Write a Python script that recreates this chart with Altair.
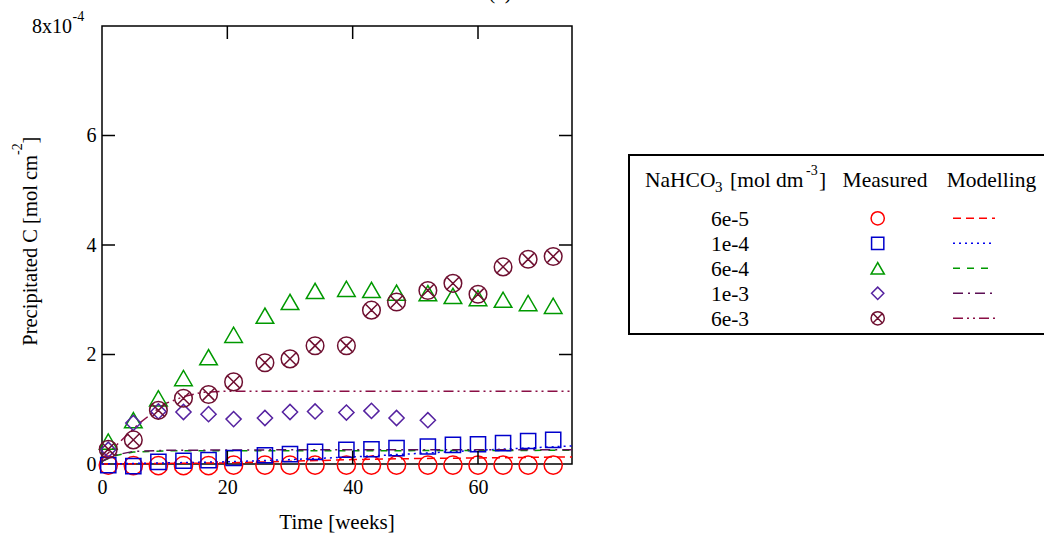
import altair as alt
import pandas as pd

FONT = "Liberation Serif"

# ---------------- data (values in units of 1e-4 mol cm^-2) ----------------
weeks = [1, 5, 9, 13, 17, 21, 26, 30, 34, 39, 43, 47, 52, 56, 60, 64, 68, 72]
weeks_1e3 = [1, 5, 9, 13, 17, 21, 26, 30, 34, 39, 43, 47, 52]

meas_6e5 = [-0.02, -0.03, -0.03, -0.03, -0.03, -0.02, -0.02, -0.02, -0.02, -0.02, -0.02, -0.02, -0.02, -0.02, -0.02, -0.02, -0.02, -0.02]
meas_1e4 = [-0.02, -0.04, 0.04, 0.06, 0.07, 0.11, 0.16, 0.18, 0.22, 0.26, 0.27, 0.29, 0.32, 0.35, 0.36, 0.38, 0.42, 0.44]
meas_6e4 = [0.41, 0.80, 1.20, 1.57, 1.95, 2.36, 2.71, 2.96, 3.16, 3.20, 3.18, 3.13, 3.12, 3.07, 3.03, 3.00, 2.94, 2.89]
meas_1e3 = [0.26, 0.75, 0.96, 0.95, 0.91, 0.82, 0.84, 0.95, 0.96, 0.94, 0.97, 0.84, 0.80]
meas_6e3 = [0.27, 0.44, 0.98, 1.20, 1.27, 1.50, 1.85, 1.92, 2.16, 2.16, 2.81, 2.96, 3.17, 3.30, 3.10, 3.60, 3.74, 3.79]

model_t_6e5 = [0, 10, 20, 30, 40, 50, 60, 75]
model_6e5 = [0.0, 0.01, 0.02, 0.05, 0.08, 0.10, 0.11, 0.13]
model_t_1e4 = [0, 10, 20, 30, 40, 50, 60, 75]
model_1e4 = [0.0, 0.02, 0.04, 0.08, 0.13, 0.19, 0.25, 0.33]
model_t_6e4 = [0, 2, 5, 10, 30, 75]
model_6e4 = [0.05, 0.15, 0.22, 0.24, 0.24, 0.25]
model_t_1e3 = [0, 2, 5, 10, 30, 75]
model_1e3 = [0.05, 0.16, 0.23, 0.25, 0.26, 0.26]
model_t_6e3 = [0, 1, 3, 6, 10, 13, 16, 20, 75]
model_6e3 = [0.10, 0.20, 0.42, 0.75, 1.10, 1.23, 1.31, 1.33, 1.33]

conc_labels = ["6e-5", "1e-4", "6e-4", "1e-3", "6e-3"]
x_ticks = [0, 20, 40, 60]
y_ticks = [0, 2, 4, 6]
inner_x_ticks = [20, 40, 60]
inner_y_ticks = [2, 4, 6]

# ---------------- styles ----------------
CIRCLE_X = "M-1,0A1,1,0,1,1,1,0A1,1,0,1,1,-1,0ZM-0.64,-0.64L0.64,0.64M-0.64,0.64L0.64,-0.64"
marker_shapes = ["circle", "square", "triangle-up", "diamond", CIRCLE_X]
marker_colors = ["#ff0000", "#0000cc", "#009900", "#5522a0", "#6e0f30"]
marker_sizes = [330, 230, 310, 230, 310]
legend_sizes = [175, 150, 175, 150, 175]
line_colors = ["#ff0000", "#0000ee", "#009900", "#5c0f55", "#8a0f45"]
line_dashes = [[8, 5], [2, 4], [7, 7], [10, 5, 2, 5], [10, 4, 2, 4, 2, 4]]

series_meas = [(weeks, meas_6e5), (weeks, meas_1e4), (weeks, meas_6e4), (weeks_1e3, meas_1e3), (weeks, meas_6e3)]
series_model = [(model_t_6e5, model_6e5), (model_t_1e4, model_1e4), (model_t_6e4, model_6e4),
                (model_t_1e3, model_1e3), (model_t_6e3, model_6e3)]

W, H = 470, 438
xs = alt.Scale(domain=[0, 75], nice=False, zero=False)
ys = alt.Scale(domain=[0, 8], nice=False, zero=False)
xaxis = alt.Axis(values=x_ticks, title=None, labelFlush=False, labelPadding=13, labelFontSize=20,
                 labelFont=FONT, labelColor="black", ticks=False, domain=False, grid=False, labelOverlap=False)
yaxis = alt.Axis(values=y_ticks, title=None, labelPadding=6, labelFontSize=20,
                 labelFont=FONT, labelColor="black", ticks=False, domain=False, grid=False, labelOverlap=False)

main_layers = []
for i in range(5):
    t, v = series_model[i]
    df = pd.DataFrame({"week": t, "value": v})
    main_layers.append(
        alt.Chart(df).mark_line(color=line_colors[i], strokeDash=line_dashes[i], strokeWidth=1.5).encode(
            x=alt.X("week:Q", scale=xs, axis=xaxis), y=alt.Y("value:Q", scale=ys, axis=yaxis))
    )
for i in range(5):
    t, v = series_meas[i]
    df = pd.DataFrame({"week": t, "value": v})
    main_layers.append(
        alt.Chart(df).mark_point(shape=marker_shapes[i], filled=False, size=marker_sizes[i],
                                 color=marker_colors[i], strokeWidth=1.5, opacity=1).encode(
            x=alt.X("week:Q", scale=xs, axis=xaxis), y=alt.Y("value:Q", scale=ys, axis=yaxis))
    )

# inward ticks
dfx = pd.DataFrame({"t": inner_x_ticks})
dfy = pd.DataFrame({"t": inner_y_ticks})
tick_style = dict(color="black", strokeWidth=1.5)
main_layers += [
    alt.Chart(dfx).mark_rule(**tick_style).encode(x=alt.X("t:Q", scale=xs, axis=xaxis), y=alt.value(0), y2=alt.value(13)),
    alt.Chart(dfx).mark_rule(**tick_style).encode(x=alt.X("t:Q", scale=xs, axis=xaxis), y=alt.value(H), y2=alt.value(H - 13)),
    alt.Chart(dfy).mark_rule(**tick_style).encode(y=alt.Y("t:Q", scale=ys, axis=yaxis), x=alt.value(0), x2=alt.value(13)),
    alt.Chart(dfy).mark_rule(**tick_style).encode(y=alt.Y("t:Q", scale=ys, axis=yaxis), x=alt.value(W), x2=alt.value(W - 13)),
]
main = alt.layer(*main_layers)

# ---------------- annotations & legend ----------------
one = alt.Data(values=[{}])


def txt(s, x, y, size=21, align="left", angle=0, baseline="alphabetic"):
    kw = dict(text=s, font=FONT, fontSize=size, align=align, baseline=baseline, color="black")
    if angle:
        kw["angle"] = angle
    return alt.Chart(one).mark_text(**kw).encode(x=alt.value(x), y=alt.value(y))


ann = [
    txt("(a)", 398, -27.5, align="center"),
    txt("8x10", -30, 7, size=20, align="right"),
    txt("-4", -29.5, -5, size=14),
    txt("Time [weeks]", W / 2, 503, size=21, align="center"),
    txt("Precipitated C [mol cm", -65, 129, size=20.5, align="right", angle=270),
    txt("-2", -80, 129, size=14, angle=270),
    txt("]", -65, 117.5, size=20.5, angle=270),
    # legend header
    txt("NaHCO", 543, 161, size=21.5),
    txt("3", 613, 165.7, size=15),
    txt("[mol dm", 628, 161, size=21.5),
    txt("-3", 704, 149, size=14),
    txt("]", 717, 161, size=21.5),
    txt("Measured", 783, 161, size=21.5, align="center"),
    txt("Modelling", 889.5, 161, size=21.5, align="center"),
]

box = alt.Chart(one).mark_rect(fillOpacity=0, stroke="black", strokeWidth=2).encode(
    x=alt.value(527), x2=alt.value(960), y=alt.value(129), y2=alt.value(308))

ly = alt.Scale(type="point", domain=conc_labels, range=[192.3, 292.3], padding=0)
leg_df = pd.DataFrame({"conc": conc_labels})
leg_layers = [box] + ann
leg_layers.append(
    alt.Chart(leg_df).mark_text(font=FONT, fontSize=21.5, align="center", baseline="alphabetic", dy=7.5, color="black").encode(
        x=alt.value(628), y=alt.Y("conc:N", scale=ly, axis=None), text="conc:N")
)
for i in range(5):
    d = pd.DataFrame({"conc": [conc_labels[i]]})
    leg_layers.append(
        alt.Chart(d).mark_point(shape=marker_shapes[i], filled=False, size=legend_sizes[i],
                                color=marker_colors[i], strokeWidth=1.5, opacity=1).encode(
            x=alt.value(775.7), y=alt.Y("conc:N", scale=ly, axis=None))
    )
    leg_layers.append(
        alt.Chart(d).mark_rule(color=line_colors[i], strokeDash=line_dashes[i], strokeWidth=1.5).encode(
            x=alt.value(851), x2=alt.value(893), y=alt.Y("conc:N", scale=ly, axis=None))
    )
legend = alt.layer(*leg_layers)

chart = alt.layer(main, legend).resolve_scale(x="independent", y="independent").properties(
    width=W, height=H,
    autosize=alt.AutoSizeParams(type="none"),
    padding={"left": 102, "top": 26, "right": 472, "bottom": 71},
    background="white",
).configure_view(stroke="black", strokeWidth=1.5)

chart.save("out.html", embed_options={"renderer": "svg", "actions": False})
